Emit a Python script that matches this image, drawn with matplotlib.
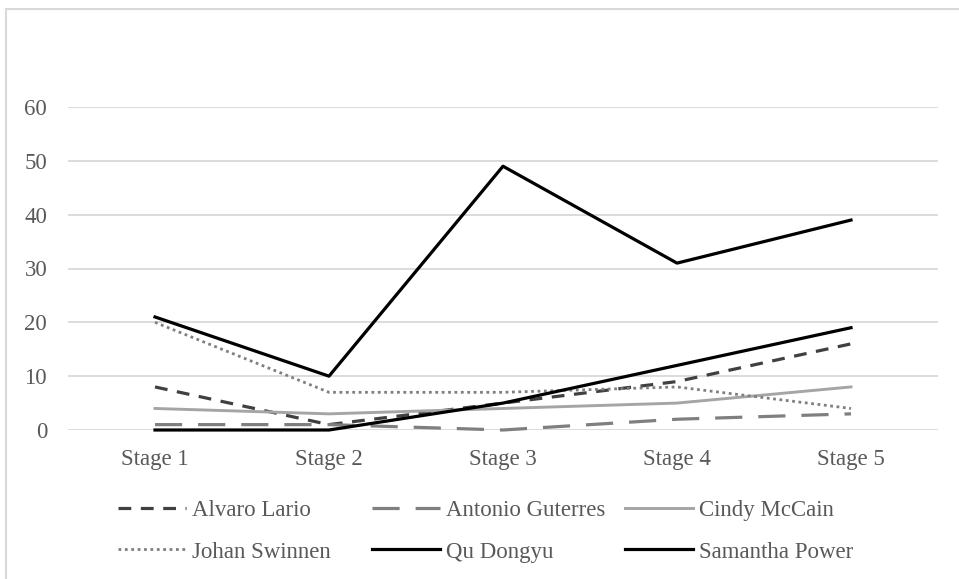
import matplotlib
matplotlib.use("Agg")
import matplotlib.pyplot as plt
from matplotlib.patches import Rectangle

categories = ["Stage 1", "Stage 2", "Stage 3", "Stage 4", "Stage 5"]
alvaro_lario = [8, 1, 5, 9, 16]
antonio_guterres = [1, 1, 0, 2, 3]
cindy_mccain = [4, 3, 4, 5, 8]
johan_swinnen = [20, 7, 7, 8, 4]
qu_dongyu = [21, 10, 49, 31, 39]
samantha_power = [0, 0, 5, 12, 19]
y_ticks = [0, 10, 20, 30, 40, 50, 60]

W, H = 959, 579
FS = 16.5
plt.rcParams['font.family'] = ['Liberation Serif', 'DejaVu Serif']
fig = plt.figure(figsize=(W / 100, H / 100), dpi=100)

# outer chart frame
fig.patches.append(Rectangle((5.5 / W, -0.05), 1.2, (H - 8.5) / H + 0.05,
                             transform=fig.transFigure, fill=False,
                             edgecolor="#d9d9d9", linewidth=1.5))

ax = fig.add_axes([68 / W, 1 - 430 / H, (938 - 68) / W, (430 - 107) / H])
ax.set_xlim(-0.5, len(categories) - 0.5)
ax.set_ylim(0, 60)
ax.set_yticks(y_ticks)
ax.set_xticks(range(len(categories)))
ax.set_xticklabels(categories)
for s in ax.spines.values():
    s.set_visible(False)
ax.grid(axis="y", color="#d9d9d9", linewidth=1.3)
ax.set_axisbelow(True)
ax.tick_params(axis="both", length=0, labelsize=FS, colors="#595959")
ax.tick_params(axis="y", pad=15)
ax.tick_params(axis="x", pad=14)

x = list(range(len(categories)))
series = [
    ("Alvaro Lario", alvaro_lario, dict(color="#404040", lw=2.3, dashes=(4, 3))),
    ("Antonio Guterres", antonio_guterres, dict(color="#7f7f7f", lw=2.3, dashes=(8.5, 5))),
    ("Cindy McCain", cindy_mccain, dict(color="#a5a5a5", lw=2.1, linestyle="-")),
    ("Johan Swinnen", johan_swinnen, dict(color="#7f7f7f", lw=2.0, dashes=(1, 1.3))),
    ("Qu Dongyu", qu_dongyu, dict(color="#000000", lw=2.3, linestyle="-")),
    ("Samantha Power", samantha_power, dict(color="#000000", lw=2.3, linestyle="-")),
]
handles = []
for name, vals, st in series:
    ln, = ax.plot(x, vals, label=name, clip_on=False, **st)
    handles.append(ln)

# legend entries laid out like the reference (3 equal columns, 2 rows)
col_x = [118, 372, 625]
row_y = [510, 552]
for i, (h, (name, _, _)) in enumerate(zip(handles, series)):
    r, c = divmod(i, 3)
    fig.legend([h], [name], loc="center left",
               bbox_to_anchor=(col_x[c] / W, 1 - row_y[r] / H),
               frameon=False, fontsize=FS, handlelength=2.95,
               handletextpad=0.3, borderpad=0, borderaxespad=0,
               labelcolor="#595959")

fig.savefig("out.png", dpi=100)
